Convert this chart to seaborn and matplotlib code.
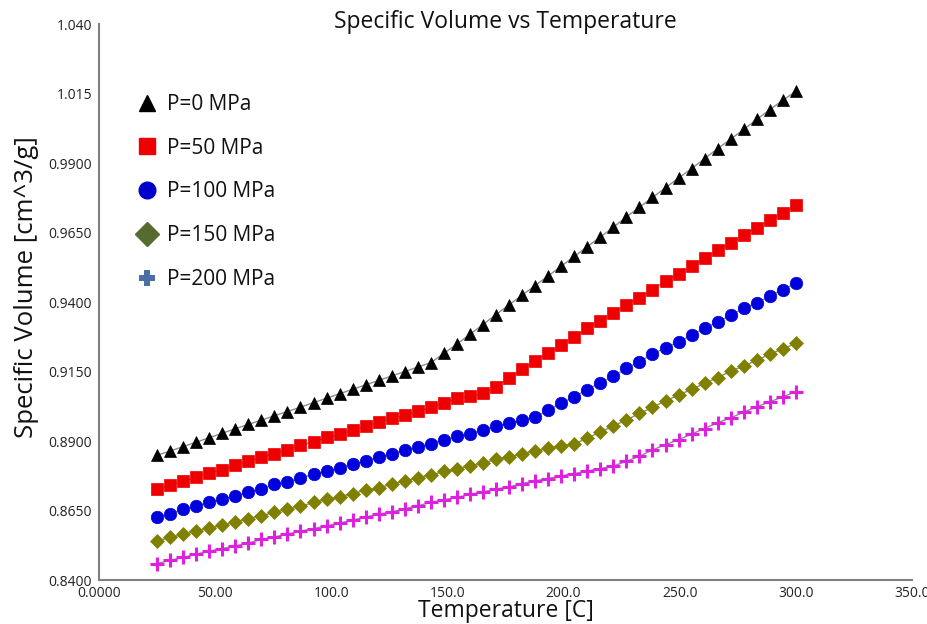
import numpy as np
import pandas as pd
import matplotlib
matplotlib.use("Agg")
import matplotlib.pyplot as plt
from matplotlib.lines import Line2D
import seaborn as sns

# ---- data ----
temperature = [25.0, 30.61, 36.22, 41.84, 47.45, 53.06, 58.67, 64.29, 69.90, 75.51,
               81.12, 86.73, 92.35, 97.96, 103.57, 109.18, 114.80, 120.41, 126.02, 131.63,
               137.24, 142.86, 148.47, 154.08, 159.69, 165.31, 170.92, 176.53, 182.14, 187.76,
               193.37, 198.98, 204.59, 210.20, 215.82, 221.43, 227.04, 232.65, 238.27, 243.88,
               249.49, 255.10, 260.71, 266.33, 271.94, 277.55, 283.16, 288.78, 294.39, 300.0]

p0 = [0.8849, 0.8864, 0.8880, 0.8896, 0.8912, 0.8928, 0.8944, 0.8960, 0.8975, 0.8991,
      0.9006, 0.9022, 0.9038, 0.9054, 0.9070, 0.9086, 0.9102, 0.9118, 0.9134, 0.9150,
      0.9166, 0.9182, 0.9215, 0.9249, 0.9284, 0.9319, 0.9355, 0.9390, 0.9425, 0.9459,
      0.9494, 0.9529, 0.9564, 0.9599, 0.9634, 0.9669, 0.9706, 0.9741, 0.9776, 0.9811,
      0.9846, 0.9880, 0.9916, 0.9952, 0.9986, 1.0021, 1.0057, 1.0092, 1.0126, 1.0158]

p50 = [0.8727, 0.8741, 0.8755, 0.8769, 0.8785, 0.8797, 0.8812, 0.8827, 0.8841, 0.8855,
       0.8869, 0.8885, 0.8897, 0.8913, 0.8924, 0.8939, 0.8953, 0.8967, 0.8981, 0.8993,
       0.9007, 0.9021, 0.9036, 0.9053, 0.9061, 0.9071, 0.9095, 0.9128, 0.9158, 0.9188,
       0.9217, 0.9245, 0.9275, 0.9305, 0.9332, 0.9361, 0.9389, 0.9416, 0.9445, 0.9475,
       0.9500, 0.9529, 0.9559, 0.9586, 0.9614, 0.9640, 0.9668, 0.9694, 0.9721, 0.9748]

p100 = [0.8627, 0.8639, 0.8654, 0.8665, 0.8680, 0.8691, 0.8701, 0.8717, 0.8729, 0.8744,
        0.8753, 0.8767, 0.8781, 0.8792, 0.8803, 0.8817, 0.8828, 0.8841, 0.8855, 0.8867,
        0.8879, 0.8891, 0.8905, 0.8917, 0.8927, 0.8941, 0.8953, 0.8963, 0.8977, 0.8985,
        0.9011, 0.9035, 0.9059, 0.9085, 0.9110, 0.9133, 0.9161, 0.9185, 0.9213, 0.9235,
        0.9257, 0.9281, 0.9305, 0.9328, 0.9353, 0.9377, 0.9397, 0.9421, 0.9445, 0.9467]

p150 = [0.8541, 0.8553, 0.8564, 0.8577, 0.8587, 0.8597, 0.8609, 0.8621, 0.8631, 0.8643,
        0.8655, 0.8665, 0.8679, 0.8690, 0.8699, 0.8711, 0.8723, 0.8731, 0.8745, 0.8756,
        0.8767, 0.8777, 0.8791, 0.8801, 0.8810, 0.8821, 0.8834, 0.8843, 0.8853, 0.8864,
        0.8874, 0.8883, 0.8889, 0.8911, 0.8932, 0.8954, 0.8976, 0.8999, 0.9021, 0.9044,
        0.9065, 0.9086, 0.9107, 0.9128, 0.9151, 0.9170, 0.9191, 0.9212, 0.9232, 0.9251]

p200 = [0.8459, 0.8471, 0.8481, 0.8493, 0.8504, 0.8513, 0.8523, 0.8533, 0.8546, 0.8555,
        0.8565, 0.8576, 0.8585, 0.8595, 0.8605, 0.8615, 0.8627, 0.8637, 0.8645, 0.8657,
        0.8667, 0.8679, 0.8689, 0.8697, 0.8708, 0.8717, 0.8727, 0.8735, 0.8747, 0.8757,
        0.8765, 0.8775, 0.8783, 0.8792, 0.8801, 0.8810, 0.8827, 0.8845, 0.8868, 0.8887,
        0.8905, 0.8925, 0.8945, 0.8966, 0.8983, 0.9004, 0.9023, 0.9041, 0.9059, 0.9077]

labels = ["P=0 MPa", "P=50 MPa", "P=100 MPa", "P=150 MPa", "P=200 MPa"]
series = [p0, p50, p100, p150, p200]

x_ticks = [0, 50, 100, 150, 200, 250, 300, 350]
x_tick_labels = ["0.0000", "50.00", "100.0", "150.0", "200.0", "250.0", "300.0", "350.0"]
y_ticks = [0.84, 0.865, 0.89, 0.915, 0.94, 0.965, 0.99, 1.015, 1.04]
y_tick_labels = ["0.8400", "0.8650", "0.8900", "0.9150", "0.9400", "0.9650", "0.9900", "1.015", "1.040"]

# ---- style ----
sns.set_style("white")
plt.rcParams["font.family"] = ["Open Sans", "DejaVu Sans"]

markers = ["^", "s", "o", "D", "P"]
plot_markers = ["^", "s", "o", "D", "+"]
marker_colors = ["#000000", "#ee0000", "#0000dd", "#808000", "#e020e0"]
legend_colors = ["#000000", "#ee0000", "#0000cc", "#556b2f", "#4a6fa5"]
marker_sizes = [9, 8.5, 9, 7.5, 10]

fig = plt.figure(figsize=(9.28, 6.24), dpi=100)
ax = fig.add_axes([0.1067, 0.0705, 0.8761, 0.891])

for name, vals, m, c, ms in zip(labels, series, plot_markers, marker_colors, marker_sizes):
    df = pd.DataFrame({"Temperature": temperature, "Volume": vals})
    kw = dict(marker=m, markersize=ms, markerfacecolor=c, markeredgecolor=c)
    if m == "+":
        kw["markeredgewidth"] = 2.2
    else:
        kw["markeredgewidth"] = 0.5
    sns.lineplot(data=df, x="Temperature", y="Volume", ax=ax, color="#8c8c8c",
                 linewidth=1.0, legend=False, **kw)

ax.set_xlim(0, 350)
ax.set_ylim(0.84, 1.04)
ax.set_xticks(x_ticks)
ax.set_xticklabels(x_tick_labels)
ax.set_yticks(y_ticks)
ax.set_yticklabels(y_tick_labels)
ax.tick_params(axis="both", labelsize=10, length=4, width=1, color="#808080",
               direction="out", pad=1, labelcolor="#222222")
ax.tick_params(axis="x", pad=0)
for s in ["top", "right"]:
    ax.spines[s].set_visible(False)
for s in ["left", "bottom"]:
    ax.spines[s].set_color("#808080")
    ax.spines[s].set_linewidth(1.5)
ax.grid(False)

ax.set_xlabel("")
ax.set_ylabel("")
fig.text(0.545, 0.965, "Specific Volume vs Temperature", ha="center", va="center",
         fontsize=16.5, color="#111111")
fig.text(0.545, 0.021, "Temperature [C]", ha="center", va="center",
         fontsize=16.5, color="#111111")
fig.text(0.029, 0.54, "Specific Volume [cm^3/g]", ha="center", va="center",
         rotation=90, fontsize=18.5, color="#111111")

handles = []
for m, c, ms in zip(markers, legend_colors, [12, 11, 12, 12, 12]):
    if m == "P":
        handles.append(Line2D([], [], linestyle="none", marker="P", markersize=ms,
                              markerfacecolor=c, markeredgecolor=c, markeredgewidth=0))
    else:
        handles.append(Line2D([], [], linestyle="none", marker=m, markersize=ms,
                              markerfacecolor=c, markeredgecolor=c))
leg = ax.legend(handles, labels, loc="upper left", bbox_to_anchor=(0.044, 0.874),
                frameon=False, fontsize=15, labelspacing=1.09, handletextpad=0.36,
                handlelength=1.2, borderaxespad=0, borderpad=0)
for t in leg.get_texts():
    t.set_color("#111111")

fig.savefig("out.png", dpi=100)
